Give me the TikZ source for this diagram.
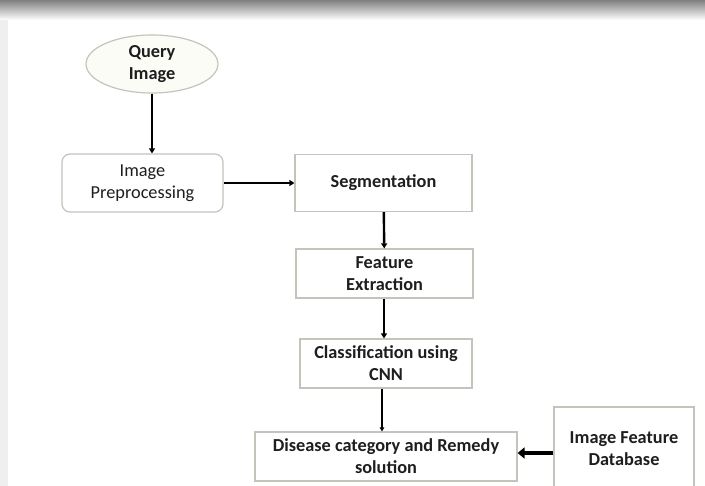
\documentclass[tikz,border=0pt]{standalone}
\usepackage{fontspec}
\setmainfont{Carlito}
\usetikzlibrary{arrows.meta,shapes.geometric}
\definecolor{boxline}{HTML}{C4C4BC}
\definecolor{ovalfill}{HTML}{FCFCF7}
\definecolor{txt}{HTML}{1E1E1E}
\definecolor{shade}{HTML}{E2E2E2}

\begin{document}
\begin{tikzpicture}[x=1pt,y=-1pt,
  stepbox/.style={draw=boxline,line width=1.2pt,fill=white,inner sep=0pt,align=center,
    font=\fontsize{18.3}{22}\selectfont\bfseries,text=txt},
  flow/.style={-{Triangle[length=5pt,width=6pt]},line width=2.4pt,black},
  thinflow/.style={-{Triangle[length=4pt,width=4.5pt]},line width=1.5pt,black}]
  \useasboundingbox (0,0) rectangle (705,486);
  \fill[white] (0,0) rectangle (705,486);
  % faint background band
  \fill[shade] (0,0) rectangle (705,20);
  \fill[shade!55] (0,20) rectangle (8,486);
  % blocks
  \node[stepbox,ellipse,fill=ovalfill,minimum width=132pt,minimum height=58pt] (query) at (152,64) {Query\\Image};
  \node[stepbox,rounded corners=8pt,minimum width=161pt,minimum height=58pt,font=\fontsize{18.3}{22}\selectfont] (prep) at (142.5,183) {Image\\Preprocessing};
  \node[stepbox,minimum width=177pt,minimum height=57pt] (seg) at (383.5,183) {Segmentation};
  \node[stepbox,minimum width=177pt,minimum height=49pt] (feat) at (384.5,273.5) {Feature\\Extraction};
  \node[stepbox,minimum width=172pt,minimum height=49pt] (cnn) at (386,363.5) {Classification using\\CNN};
  \node[stepbox,minimum width=262pt,minimum height=49pt] (result) at (386,456.5) {Disease category and Remedy\\solution};
  \node[stepbox,minimum width=140pt,minimum height=84pt] (db) at (624,449) {Image Feature\\Database};
  % connectors
  \draw[flow] (query.south) -- (prep.north -| query.south);
  \draw[flow] (prep) -- (seg);
  \draw[flow] (seg) -- (feat);
  \draw[flow] (feat.south -| cnn.north) ++(-2,0) coordinate (f) -- (cnn.north -| f);
  \draw[thinflow] (cnn.south) ++(-4,0) coordinate (c) -- (result.north -| c);
  \draw[flow,line width=4.5pt,-{Triangle[length=7pt,width=11pt]}] (db.west |- 0,453) coordinate (d) -- (result.east |- d);
\end{tikzpicture}
\end{document}
